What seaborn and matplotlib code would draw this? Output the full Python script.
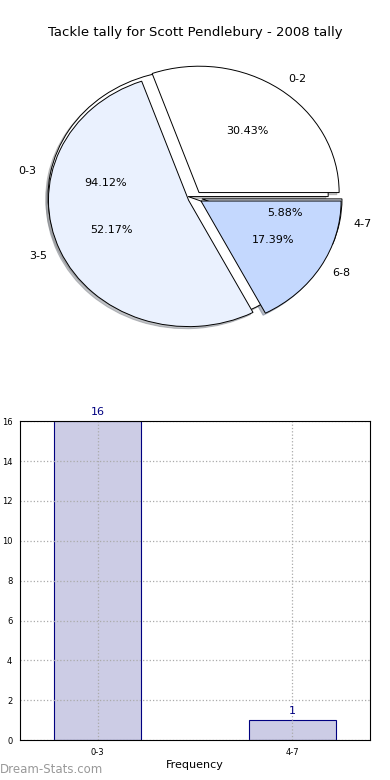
import matplotlib
matplotlib.use("Agg")
import matplotlib.pyplot as plt
import seaborn as sns
import pandas as pd

# Pie data (two tallies drawn on the same axes)
pie1_labels = ["0-2", "3-5", "6-8"]
pie1_values = [7, 12, 4]
pie1_colors = ["#ffffff", "#eaf1fe", "#c4d8fe"]

pie2_labels = ["0-3", "4-7"]
pie2_values = [16, 1]
pie2_colors = ["#ffffff", "#eaf1fe"]

# Bar data
bar_labels = ["0-3", "4-7"]
bar_values = [16, 1]

title = "Tackle tally for Scott Pendlebury - 2008 tally"

sns.set_style("white")
plt.rcParams["font.family"] = ["DejaVu Sans"]
plt.rcParams["text.color"] = "black"
plt.rcParams["axes.labelcolor"] = "black"
plt.rcParams["xtick.color"] = "black"
plt.rcParams["ytick.color"] = "black"

fig = plt.figure(figsize=(3.9, 7.8), dpi=100)

# Pie chart
ax1 = fig.add_axes([0.051, 0.544, 0.898, 0.405])
wedge_kw = {"edgecolor": "black", "linewidth": 0.7}
shadow_kw = {"ox": -0.012, "oy": -0.012, "shade": 0.45}
ax1.pie(pie2_values, labels=pie2_labels, colors=pie2_colors, explode=[0.05, 0.05],
        autopct="%1.2f%%", shadow=shadow_kw, startangle=0, wedgeprops=wedge_kw,
        textprops={"fontsize": 8})
ax1.pie(pie1_values, labels=pie1_labels, colors=pie1_colors, explode=[0.05, 0.05, 0.05],
        autopct="%1.2f%%", shadow=shadow_kw, startangle=0, wedgeprops=wedge_kw,
        textprops={"fontsize": 8})
ax1.set_aspect("auto")
ax1.set_xlim(-1.25, 1.25)
ax1.set_ylim(-1.25, 1.25)
ax1.set_title(title, fontsize=9.5, pad=3)

# Bar chart
ax2 = fig.add_axes([0.051, 0.051, 0.898, 0.409])
df = pd.DataFrame({"band": bar_labels, "count": bar_values})
sns.barplot(data=df, x="band", y="count", ax=ax2, color="#ccccE5",
            edgecolor="navy", linewidth=0.8, width=0.45, saturation=1)
for i, v in enumerate(bar_values):
    ax2.text(i, v + 0.2, str(v), ha="center", va="bottom", color="navy", fontsize=8)
ax2.set_xlim(-0.4, 1.4)
ax2.set_ylim(0, 16)
ax2.set_yticks(range(0, 17, 2))
ax2.tick_params(labelsize=6, length=2, colors="black")
ax2.grid(True, linestyle=":", color="#aaaaaa", linewidth=0.9)
ax2.set_axisbelow(False)
for s in ax2.spines.values():
    s.set_color("black")
    s.set_linewidth(0.8)
    s.set_zorder(3)
ax2.set_xlabel("Frequency", fontsize=8, labelpad=2)
ax2.set_ylabel("Stat Inter Vals", fontsize=8)
ax2.yaxis.set_label_coords(-0.047, 0.5)

fig.text(0.0, 0.005, "Dream-Stats.com", color="#999999", fontsize=8.5, ha="left", va="bottom")

fig.savefig("out.png", dpi=100)
